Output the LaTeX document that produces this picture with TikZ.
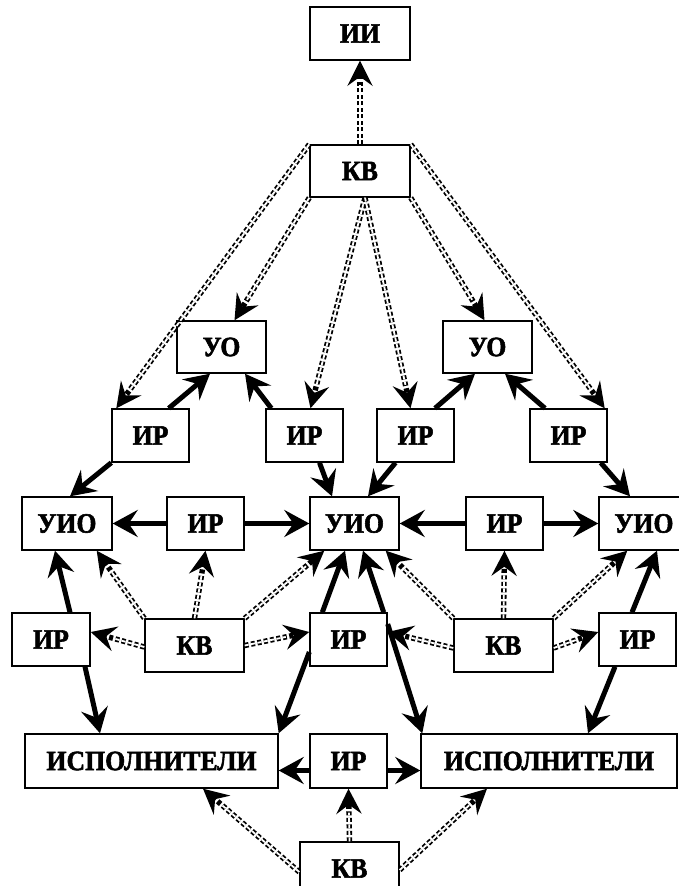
\documentclass[tikz,border=0pt]{standalone}
\usepackage{fontspec}
\setmainfont{Liberation Serif}
\newfontfamily\boxfont[BoldFeatures={FakeBold=2,FakeStretch=0.92}]{Liberation Serif}
\usetikzlibrary{arrows.meta,calc}
\begin{document}
\begin{tikzpicture}[x=1pt,y=-1pt,
  box/.style={draw, line width=1.4pt, fill=white, inner sep=0pt, minimum height=53pt,
    font=\boxfont\bfseries\fontsize{28pt}{30pt}\selectfont},
  irbox/.style={box, minimum width=77pt},
  strong/.style={line width=5pt, -{Stealth[length=25pt,width=27pt,inset=9pt]}},
  ctrl/.style={line width=5.4pt, dash pattern=on 4pt off 2.5pt,
    -{Stealth[length=25pt,width=25pt,inset=9pt]},
    postaction={draw=white, line width=1.8pt, -, shorten >=24pt}}
]
\useasboundingbox (0,0) rectangle (678,886);
% nodes
\node[box, minimum width=100pt] (ii) at (360,33.5) {ИИ};
\node[box, minimum width=100pt, minimum height=52pt] (kvt) at (360,171) {КВ};
\node[box, minimum width=89pt, minimum height=52pt] (uol) at (221.5,347) {УО};
\node[box, minimum width=89pt, minimum height=52pt] (uor) at (487.5,347) {УО};
\node[irbox] (ir1) at (150.5,435.5) {ИР};
\node[irbox] (ir2) at (304.5,435.5) {ИР};
\node[irbox] (ir3) at (415.5,435.5) {ИР};
\node[irbox] (ir4) at (568.5,435.5) {ИР};
\node[box, minimum width=90pt] (uiol) at (67,523.5) {УИО};
\node[irbox] (irml) at (205.5,523.5) {ИР};
\node[box, minimum width=89pt] (uioc) at (354.5,523.5) {УИО};
\node[irbox] (irmr) at (504.5,523.5) {ИР};
\node[box, minimum width=90pt] (uior) at (644,523.5) {УИО};
\node[box, minimum width=78pt] (irl) at (51,639.5) {ИР};
\node[box, minimum width=99pt] (kvl) at (194.5,645.5) {КВ};
\node[irbox] (irc) at (348.5,639.5) {ИР};
\node[box, minimum width=99pt] (kvr) at (503.5,645.5) {КВ};
\node[irbox] (irr) at (637.5,639.5) {ИР};
\node[box, minimum width=253pt, minimum height=54pt] (ispl) at (151.5,761) {ИСПОЛНИТЕЛИ};
\node[irbox, minimum height=54pt] (irb) at (348.5,761) {ИР};
\node[box, minimum width=256pt, minimum height=54pt] (ispr) at (549,761) {ИСПОЛНИТЕЛИ};
\node[box, minimum width=99pt] (kvb) at (349.5,868.5) {КВ};
% control (dashed double) connectors
\draw[ctrl] (kvt.north) -- (ii.south);
\draw[ctrl] (kvt.north west) -- ([xshift=5pt]ir1.north west);
\draw[ctrl] (kvt.south west) -- ([xshift=13pt]uol.north);
\draw[ctrl] ([xshift=5pt]kvt.south) -- ([xshift=6pt]ir2.north);
\draw[ctrl] ([xshift=5pt]kvt.south) -- ([xshift=-5pt]ir3.north);
\draw[ctrl] (kvt.south east) -- ([xshift=-3pt]uor.north);
\draw[ctrl] (kvt.north east) -- ([xshift=-3pt]ir4.north east);
\draw[ctrl] (kvl.north) -- (irml.south);
\draw[ctrl] (kvr.north) -- (irmr.south);
\draw[ctrl] (kvl.north west) -- ([xshift=-16pt]uiol.south east);
\draw[ctrl] ([yshift=-1.5pt]kvl.west) -- ([yshift=7.5pt]irl.east);
\draw[ctrl] (kvl.north east) -- ([xshift=15pt]uioc.south west);
\draw[ctrl] (kvl.east) -- ([yshift=7.5pt]irc.west);
\draw[ctrl] (kvr.north west) -- ([xshift=-14pt]uioc.south east);
\draw[ctrl] ([yshift=-2.5pt]kvr.west) -- ([yshift=7.5pt]irc.east);
\draw[ctrl] (kvr.north east) -- ([xshift=29pt]uior.south west);
\draw[ctrl] ([yshift=-2.5pt]kvr.east) -- ([yshift=7.5pt]irr.west);
\draw[ctrl] (kvb.north) -- (irb.south);
\draw[ctrl] ([yshift=-3.5pt]kvb.west) -- ([xshift=51.5pt]ispl.south);
\draw[ctrl] ([yshift=-1.5pt]kvb.east) -- ([xshift=-62pt]ispr.south);
% strong connectors
\draw[strong] ([xshift=-21pt]ir1.north east) -- ([xshift=-11.5pt]uol.south);
\draw[strong] ([xshift=6pt]ir2.north west) -- ([xshift=23.5pt]uol.south);
\draw[strong] (ir1.south west) -- ([xshift=3pt]uiol.north);
\draw[strong] ([xshift=15pt]ir2.south) -- ([xshift=-22.5pt]uioc.north);
\draw[strong] ([xshift=-20pt]ir3.south) -- ([xshift=13.5pt]uioc.north);
\draw[strong] ([xshift=19.5pt]ir3.north) -- ([xshift=-12.5pt]uor.south);
\draw[strong] ([xshift=-23.5pt]ir4.north) -- ([xshift=17.5pt]uor.south);
\draw[strong] ([xshift=-7pt]ir4.south east) -- ([xshift=-14pt]uior.north);
\draw[strong] (irml.west) -- (uiol.east);
\draw[strong] (irml.east) -- (uioc.west);
\draw[strong] (irmr.west) -- (uioc.east);
\draw[strong] (irmr.east) -- (uior.west);
\draw[strong] ([xshift=19pt]irl.north) -- ([xshift=-12pt]uiol.south);
\draw[strong] ([xshift=34pt]irl.south) -- ([xshift=-51.5pt]ispl.north);
\draw[strong] ([xshift=13pt]irc.north west) -- ([xshift=-9.5pt]uioc.south);
\draw[strong] ([yshift=-12.5pt]irc.west) -- (ispl.north east);
\draw[strong] ([xshift=-4pt]irc.north east) -- ([xshift=8.5pt]uioc.south);
\draw[strong] ([yshift=15.5pt]irc.east) -- ([xshift=2pt]ispr.north west);
\draw[strong] ([xshift=-5.5pt]irr.north) -- ([xshift=13pt]uior.south);
\draw[strong] ([xshift=-22.5pt]irr.south) -- ([xshift=39pt]ispr.north);
\draw[strong] ([yshift=-9.5pt]irb.west) -- ([yshift=-9.5pt]ispl.east);
\draw[strong] ([yshift=-9.5pt]irb.east) -- ([yshift=-9.5pt]ispr.west);
\end{tikzpicture}
\end{document}
